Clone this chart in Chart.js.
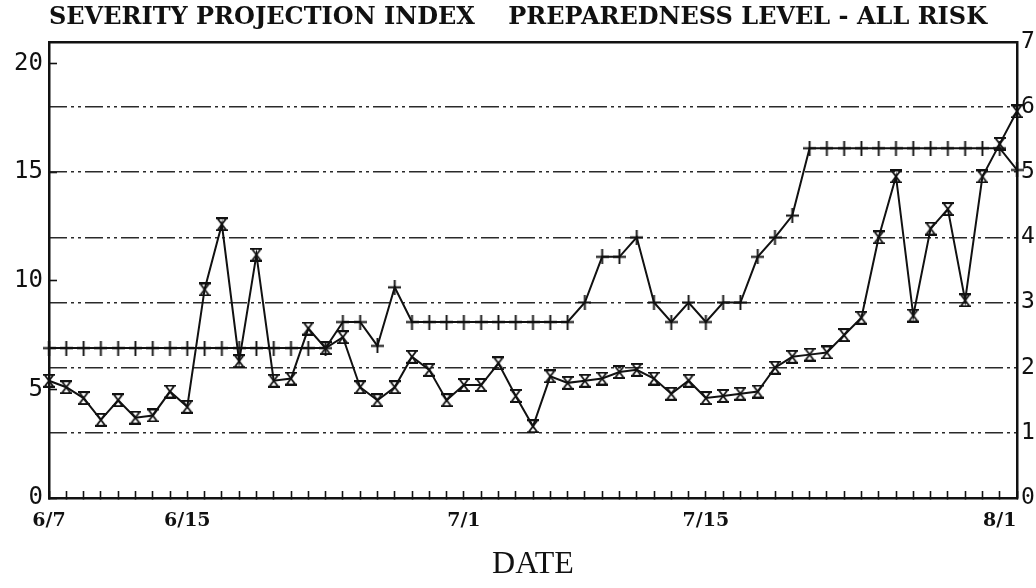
<!DOCTYPE html>
<html>
<head>
<meta charset="utf-8">
<title>Severity Projection Index</title>
<script src="https://cdn.jsdelivr.net/npm/chart.js@4.4.0/dist/chart.umd.min.js"></script>
<style>
    html, body { margin: 0; padding: 0; background: #fff; }
</style>
</head>
<body>
<canvas id="severity-chart" width="1036" height="588"></canvas>
<script>
// one value per day, first point is 6/7
const severityIndex = [
    5.4, 5.1, 4.6, 3.6, 4.5, 3.7, 3.8, 4.9, 4.2, 9.6,
    12.6, 6.3, 11.2, 5.4, 5.5, 7.8, 6.9, 7.4, 5.1, 4.5,
    5.1, 6.5, 5.9, 4.5, 5.2, 5.2, 6.2, 4.7, 3.3, 5.6,
    5.3, 5.4, 5.5, 5.8, 5.9, 5.5, 4.8, 5.4, 4.6, 4.7,
    4.8, 4.9, 6.0, 6.5, 6.6, 6.7, 7.5, 8.3, 12.0, 14.8,
    8.4, 12.4, 13.3, 9.1, 14.8, 16.3, 17.8
];

const prepLevel = [
    6.9, 6.9, 6.9, 6.9, 6.9, 6.9, 6.9, 6.9, 6.9, 6.9,
    6.9, 6.9, 6.9, 6.9, 6.9, 6.9, 6.9, 8.1, 8.1, 7.0,
    9.7, 8.1, 8.1, 8.1, 8.1, 8.1, 8.1, 8.1, 8.1, 8.1,
    8.1, 9.0, 11.1, 11.1, 12.0, 9.0, 8.1, 9.0, 8.1, 9.0,
    9.0, 11.1, 12.0, 13.0, 16.1, 16.1, 16.1, 16.1, 16.1, 16.1,
    16.1, 16.1, 16.1, 16.1, 16.1, 16.1, 15.1
];

const dateTicks = {0: '6/7', 8: '6/15', 24: '7/1', 38: '7/15', 55: '8/1'};
const indexTicks = [0, 5, 10, 15, 20];
const levelMax = 7;

const ink = '#111';

//hourglass marker for the index line
function hourglass() {
    const c = document.createElement('canvas');
    c.width = 12;
    c.height = 14;
    const g = c.getContext('2d');
    g.strokeStyle = ink;
    g.lineWidth = 1.8;
    g.beginPath();
    g.moveTo(0, 1); g.lineTo(12, 1);
    g.moveTo(0, 13); g.lineTo(12, 13);
    g.moveTo(1.5, 1); g.lineTo(10.5, 13);
    g.moveTo(10.5, 1); g.lineTo(1.5, 13);
    g.stroke();
    return c;
}

//plus marker for the preparedness line
function plus() {
    const c = document.createElement('canvas');
    c.width = 13;
    c.height = 15;
    const g = c.getContext('2d');
    g.strokeStyle = ink;
    g.lineWidth = 1.9;
    g.beginPath();
    g.moveTo(6.5, 0); g.lineTo(6.5, 15);
    g.moveTo(0, 7.5); g.lineTo(13, 7.5);
    g.stroke();
    return c;
}

const ctx = document.getElementById('severity-chart');

const chart = new Chart(ctx, {
    type: 'line',
    data: {
        labels: severityIndex.map((v, i) => i),
        datasets: [{
            label: 'Severity index',
            data: severityIndex,
            borderColor: ink,
            borderWidth: 2,
            pointStyle: hourglass(),
            pointRadius: 6,
            tension: 0,
            yAxisID: 'y'
        }, {
            label: 'Preparedness level',
            data: prepLevel,
            borderColor: ink,
            borderWidth: 2,
            pointStyle: plus(),
            pointRadius: 6,
            tension: 0,
            yAxisID: 'y'
        }]
    },
    options: {
        responsive: false,
        animation: false,
        layout: { padding: 0 },
        plugins: {
            legend: { display: false },
            tooltip: { enabled: false },
            title: {
                display: true,
                text: 'SEVERITY PROJECTION INDEX    PREPAREDNESS LEVEL - ALL RISK',
                color: ink,
                font: { family: 'DejaVu Serif', size: 24, weight: 'bold' },
                padding: { top: 3, bottom: 10 }
            }
        },
        scales: {
            x: {
                type: 'category',
                position: 'bottom',
                offset: false,
                grid: {
                    drawOnChartArea: false,
                    tickLength: -7,
                    tickColor: ink,
                    tickWidth: 1.6
                },
                border: { display: true, color: ink, width: 2.5 },
                ticks: {
                    autoSkip: false,
                    maxRotation: 0,
                    padding: 19,
                    color: ink,
                    font: { family: 'DejaVu Serif', size: 19, weight: 'bold' },
                    callback: (val, i) => dateTicks[i] || ''
                },
                title: {
                    display: true,
                    text: 'DATE',
                    color: ink,
                    font: { family: 'Liberation Serif', size: 32 },
                    padding: { top: 9 }
                },
                afterFit: s => { s.height = 90; }
            },
            top: {
                type: 'linear',
                position: 'top',
                min: 0,
                max: 1,
                grid: { display: false, drawTicks: false },
                border: { display: true, color: ink, width: 2.5 },
                ticks: { display: false },
                afterFit: s => { s.height = 0; }
            },
            y: {
                position: 'left',
                min: 0,
                max: 21,
                afterBuildTicks: s => {
                    s.ticks = indexTicks.map(v => ({ value: v }));
                },
                grid: {
                    drawOnChartArea: false,
                    tickLength: -8,
                    tickColor: ink,
                    tickWidth: 1.6
                },
                border: { display: true, color: ink, width: 2.5 },
                ticks: {
                    padding: 14,
                    color: ink,
                    font: { family: 'DejaVu Sans Mono', size: 24 }
                },
                afterFit: s => { s.width = 49; }
            },
            level: {
                position: 'right',
                min: 0,
                max: levelMax,
                ticks: {
                    stepSize: 1,
                    padding: 4,
                    color: ink,
                    font: { family: 'DejaVu Sans Mono', size: 23 }
                },
                grid: {
                    drawTicks: false,
                    lineWidth: 1.4,
                    color: c => (c.tick && c.tick.value > 0 && c.tick.value < levelMax) ? '#2a2a2a' : 'rgba(0,0,0,0)'
                },
                border: { display: true, color: ink, width: 2.5, dash: [18, 4, 3, 4, 3, 4] },
                afterFit: s => { s.width = 18; }
            }
        }
    }
});
</script>
</body>
</html>
